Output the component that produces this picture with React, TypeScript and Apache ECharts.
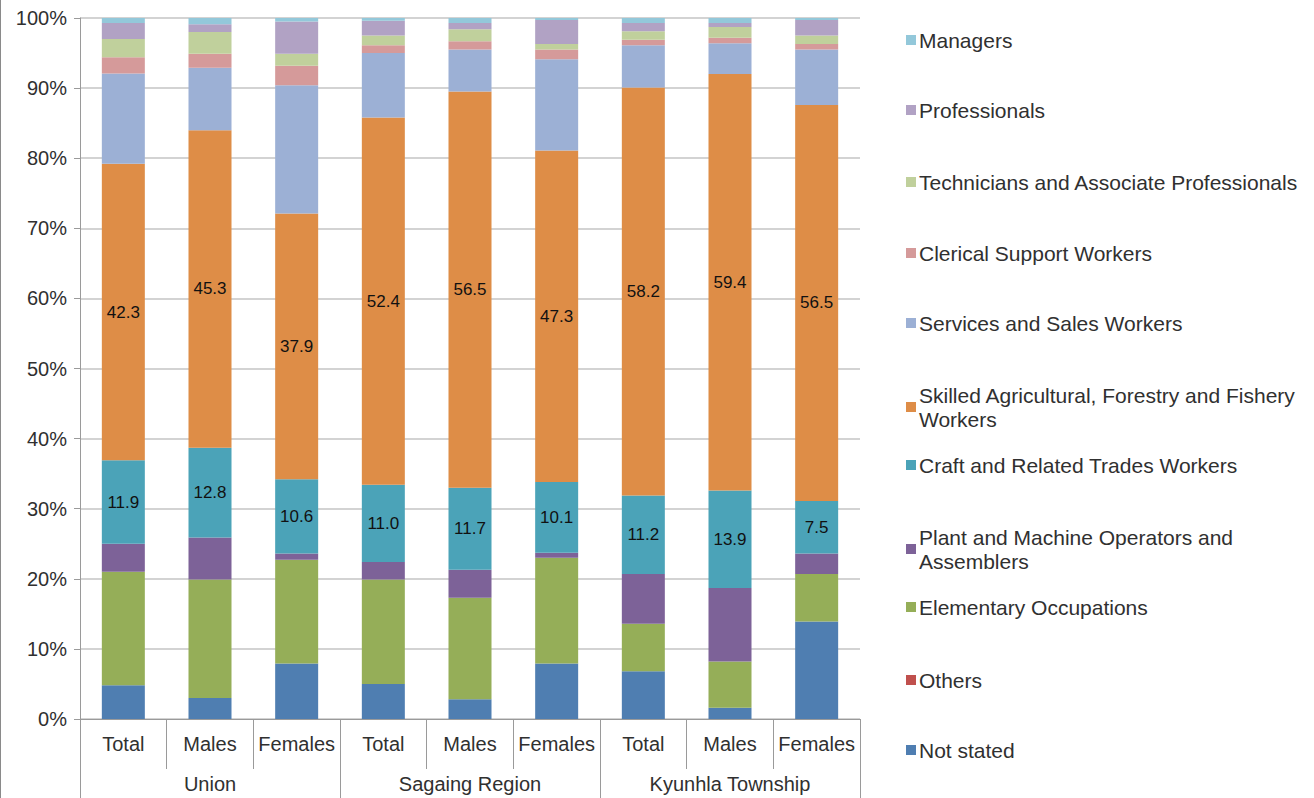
import React, { useEffect, useRef } from "react";
import * as echarts from "echarts";

const categories = ["Total", "Males", "Females", "Total", "Males", "Females", "Total", "Males", "Females"];
const groups = ["Union", "Sagaing Region", "Kyunhla Township"];
const yTicks = [0, 10, 20, 30, 40, 50, 60, 70, 80, 90, 100];

const seriesNames = [
  "Not stated",
  "Others",
  "Elementary Occupations",
  "Plant and Machine Operators and Assemblers",
  "Craft and Related Trades Workers",
  "Skilled Agricultural, Forestry and Fishery Workers",
  "Services and Sales Workers",
  "Clerical Support Workers",
  "Technicians and Associate Professionals",
  "Professionals",
  "Managers",
];

const notStated = [4.8, 3.0, 7.9, 5.0, 2.8, 7.9, 6.8, 1.6, 13.9];
const others = [0, 0, 0, 0, 0, 0, 0, 0, 0];
const elementary = [16.2, 16.9, 14.8, 14.9, 14.5, 15.1, 6.8, 6.6, 6.8];
const plant = [4.0, 6.0, 0.9, 2.5, 4.0, 0.7, 7.1, 10.5, 2.9];
const craft = [11.9, 12.8, 10.6, 11.0, 11.7, 10.1, 11.2, 13.9, 7.5];
const skilled = [42.3, 45.3, 37.9, 52.4, 56.5, 47.3, 58.2, 59.4, 56.5];
const services = [12.9, 8.9, 18.3, 9.2, 6.0, 13.0, 6.0, 4.4, 7.9];
const clerical = [2.3, 2.0, 2.8, 1.1, 1.2, 1.4, 0.8, 0.8, 0.8];
const technicians = [2.6, 3.1, 1.7, 1.4, 1.7, 0.8, 1.2, 1.5, 1.2];
const professionals = [2.3, 1.1, 4.6, 2.1, 0.9, 3.4, 1.2, 0.6, 2.2];
const managers = [0.7, 0.9, 0.5, 0.4, 0.7, 0.3, 0.7, 0.7, 0.3];

const seriesValues = [notStated, others, elementary, plant, craft, skilled, services, clerical, technicians, professionals, managers];
const seriesColors = [
  "#4F7EB1", "#C0504D", "#95AE58", "#7D6298", "#4BA3B8", "#DE8D47",
  "#9CB0D5", "#D59A9A", "#C0D09C", "#B1A2C4", "#93C8DA",
];
const labelled = [false, false, false, false, true, true, false, false, false, false, false];

// legend: display label and vertical centre of each entry
const legendOrder = [10, 9, 8, 7, 6, 5, 4, 3, 2, 1, 0];
const legendLabels: Record<string, string> = {
  "Skilled Agricultural, Forestry and Fishery Workers": "Skilled Agricultural, Forestry and Fishery\nWorkers",
  "Plant and Machine Operators and Assemblers": "Plant and Machine Operators and\nAssemblers",
};
const legendCentres = [40, 110, 182, 253, 323, 407, 465, 549, 607, 680, 750];

const FONT = "'Liberation Sans', Arial, sans-serif";

export default function App() {
  const ref = useRef<HTMLDivElement>(null);
  useEffect(() => {
    if (!ref.current) return;
    const chart = echarts.init(ref.current, null, { renderer: "svg" });
    const legends = legendOrder.map((si, i) => {
      const name = seriesNames[si];
      const twoLine = !!legendLabels[name];
      const h = twoLine ? 48 : 24;
      return {
        data: [name],
        left: 906,
        top: legendCentres[i] - h / 2,
        padding: 0,
        itemWidth: 10,
        itemHeight: 10,
        itemGap: 0,
        icon: "rect",
        selectedMode: false,
        formatter: (n: string) => legendLabels[n] || n,
        textStyle: { fontFamily: FONT, fontSize: 21, color: "#303030", lineHeight: 24, padding: [0, 0, 0, -2] },
      };
    });
    chart.setOption({
      animation: false,
      backgroundColor: "#ffffff",
      grid: { left: 80, right: 454, top: 18, bottom: 79, containLabel: false },
      legend: legends,
      xAxis: [
        {
          type: "category",
          data: categories,
          position: "bottom",
          axisLine: { show: true, lineStyle: { color: "#9a9a9a", width: 1 } },
          axisTick: { show: true, interval: 0, length: 50, lineStyle: { color: "#9a9a9a" } },
          axisLabel: { interval: 0, margin: 15, fontFamily: FONT, fontSize: 20, color: "#303030" },
        },
        {
          type: "category",
          data: groups,
          position: "bottom",
          gridIndex: 0,
          axisLine: { show: false },
          axisTick: { show: true, interval: 0, length: 79, lineStyle: { color: "#9a9a9a" } },
          axisLabel: { interval: 0, margin: 55, fontFamily: FONT, fontSize: 20, color: "#303030" },
        },
      ],
      yAxis: {
        type: "value",
        min: yTicks[0],
        max: yTicks[yTicks.length - 1],
        interval: 10,
        axisLine: { show: true, lineStyle: { color: "#9a9a9a" } },
        axisTick: { show: true, length: 6, lineStyle: { color: "#9a9a9a" } },
        axisLabel: { margin: 13, fontFamily: FONT, fontSize: 20, color: "#303030", formatter: "{value}%" },
        splitLine: { show: true, lineStyle: { color: "#c4c4c4", width: 1.5 } },
      },
      graphic: [
        { type: "line", shape: { x1: 0.5, y1: 0, x2: 0.5, y2: 798 }, style: { stroke: "#8a8a8a", lineWidth: 1 } },
      ],
      series: seriesNames.map((name, i) => ({
        name,
        type: "bar",
        stack: "total",
        barWidth: 43,
        xAxisIndex: 0,
        data: seriesValues[i],
        itemStyle: { color: seriesColors[i] },
        label: labelled[i]
          ? {
              show: true,
              position: "inside",
              fontFamily: FONT,
              fontSize: 17,
              color: "#111",
              formatter: (p: any) => Number(p.value).toFixed(1),
            }
          : { show: false },
      })),
    });
    return () => chart.dispose();
  }, []);
  return <div ref={ref} style={{ position: "fixed", left: 0, top: 0, width: 1314, height: 798 }} />;
}
